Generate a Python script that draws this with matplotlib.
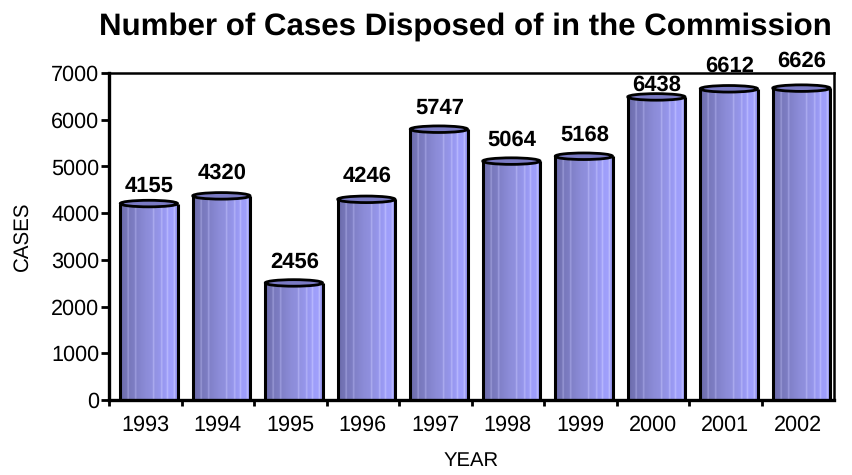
import numpy as np
import matplotlib
matplotlib.use('Agg')
import matplotlib.pyplot as plt
from matplotlib.colors import LinearSegmentedColormap
from matplotlib.patches import Ellipse, Rectangle

# Cases disposed of per year
years = ['1993', '1994', '1995', '1996', '1997', '1998', '1999', '2000', '2001', '2002']
cases = [4155, 4320, 2456, 4246, 5747, 5064, 5168, 6438, 6612, 6626]
label_offset = [430, 540, 490, 540, 500, 510, 510, 300, 540, 620]

plt.rcParams['font.family'] = ['Liberation Sans', 'DejaVu Sans']
plt.rcParams['text.hinting'] = 'none'
plt.rcParams['text.hinting_factor'] = 8

fig = plt.figure(figsize=(8.52, 4.75), dpi=100)
ax = fig.add_axes([109 / 852, 1 - 400 / 475, 725 / 852, 327 / 475])

# Horizontal shading of the cylinders, dark on the left, thin pale stripes further right
shade = LinearSegmentedColormap.from_list('cyl', [
    (0.00, '#6c6cac'), (0.12, '#7676b8'), (0.14, '#a0a0dc'), (0.16, '#7878bc'),
    (0.25, '#7e7ec4'), (0.27, '#a4a4e4'), (0.29, '#8080c8'), (0.45, '#8c8cd8'),
    (0.56, '#9090de'), (0.58, '#b4b4f4'), (0.60, '#9292e2'), (0.70, '#9696ec'),
    (0.72, '#b8b8fa'), (0.74, '#9898f0'), (0.80, '#9c9cf6'), (0.82, '#c0c0ff'),
    (0.84, '#9e9efa'), (0.92, '#a0a0fc'), (0.94, '#c4c4ff'), (0.96, '#9a9af4'),
    (1.00, '#8c8ce0')])
grad = np.linspace(0, 1, 256).reshape(1, -1)

bar_w = 0.79
bar_shift = 0.05
cap_h = 140
cap_lift = 50
x = np.arange(len(years))
for i, v in zip(x, cases):
    left = i + bar_shift - bar_w / 2
    top = v + cap_lift
    im = ax.imshow(grad, extent=[left, left + bar_w, 0, top], cmap=shade, aspect='auto',
                   zorder=2, interpolation='bilinear')
    clip = Rectangle((left, 0), bar_w, top, transform=ax.transData)
    im.set_clip_path(clip)
    ax.plot([left, left], [0, top], color='black', lw=2.2, zorder=3, solid_capstyle='butt')
    ax.plot([left + bar_w, left + bar_w], [0, top], color='black', lw=2.2, zorder=3, solid_capstyle='butt')
    ax.add_patch(Ellipse((i + bar_shift, top), bar_w, cap_h, facecolor='#7a7ac4', edgecolor='black',
                         lw=2.0, zorder=4))

for i, v, off in zip(x, cases, label_offset):
    ax.text(i + bar_shift + 0.01, v + off, str(v), ha='center', va='center', fontsize=15.8, fontweight='bold',
            zorder=6, clip_on=False)

ax.set_xlim(-0.5, len(years) - 0.5)
ax.set_ylim(0, 7000)
ax.set_yticks(np.arange(0, 7001, 1000))
ax.set_xticks(x - 0.5)
ax.set_xticklabels([])
ax.set_xticks(x, minor=True)
ax.set_xticklabels(years, minor=True)
ax.tick_params(axis='x', which='major', length=4.5, width=2, direction='out')
ax.tick_params(axis='x', which='minor', length=0, pad=11, labelsize=15.6)
ax.tick_params(axis='y', length=5.5, width=2, direction='out', pad=1.5, labelsize=15.6)
for s in ['left', 'bottom']:
    ax.spines[s].set_linewidth(2.4)
for s in ['top', 'right']:
    ax.spines[s].set_linewidth(1.8)

fig.text(465 / 852, 1 - 27 / 475, 'Number of Cases Disposed of in the Commission', ha='center',
         va='center', fontsize=22.5, fontweight='bold')
fig.text(471 / 852, 1 - 461 / 475, 'YEAR', ha='center', va='center', fontsize=14.6)
fig.text(22 / 852, 1 - 236 / 475, 'CASES', ha='center', va='center', rotation=90, fontsize=14.8)

fig.savefig('out.png', dpi=100)
